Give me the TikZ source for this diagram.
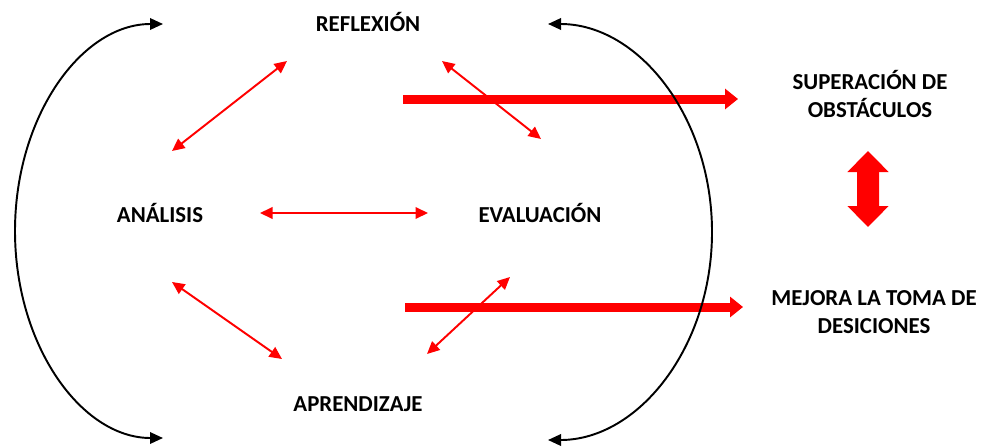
\documentclass[tikz,border=0pt]{standalone}
\usepackage{fontspec}
\setmainfont{Carlito}
\usetikzlibrary{arrows.meta}

\begin{document}
\begin{tikzpicture}[
    redarrow/.style={
      red, line width=1.1pt,
      {Triangle[length=2.5mm,width=2.3mm]}-{Triangle[length=2.5mm,width=2.3mm]}
    },
    bigarrow/.style={
      red, line width=1.8mm,
      -{Triangle[length=2.6mm,width=4mm]}
    },
    hugearrow/.style={
      red, line width=4.4mm,
      {Triangle[length=4.2mm,width=8mm]}-{Triangle[length=4.2mm,width=8mm]}
    },
    cyclearc/.style={
      black, line width=1.1pt,
      {Triangle[length=2.6mm,width=2.3mm]}-{Triangle[length=2.6mm,width=2.3mm]}
    },
    word/.style={font=\bfseries\fontsize{13}{15.5}\selectfont,inner sep=0pt,align=center}
  ]
    \useasboundingbox (0,0) rectangle (19.64,8.94);

    \node[word] (Reflexion) at (7.36,8.50) {REFLEXIÓN};
    \node[word] (Analisis) at (3.20,4.68) {ANÁLISIS};
    \node[word] (Evaluacion) at (10.80,4.68) {EVALUACIÓN};
    \node[word] (Aprendizaje) at (7.16,0.86) {APRENDIZAJE};
    \node[word] (Superacion) at (17.40,7.06) {SUPERACIÓN DE\\OBSTÁCULOS};
    \node[word] (Mejora) at (17.48,2.70) {MEJORA LA TOMA DE\\DESICIONES};

    \coordinate (UpperStart) at (8.06,6.96);
    \coordinate (LowerStart) at (8.10,2.80);
    \coordinate (LeftTop) at (3.26,8.46);
    \coordinate (RightTop) at (10.96,8.46);

    % thin links between the four stages
    \draw[redarrow] ([shift={(-1.62,-0.78)}]Reflexion.center) -- ([shift={(0.24,1.24)}]Analisis.center);
    \draw[redarrow] ([shift={(1.48,-0.78)}]Reflexion.center) -- ([shift={(0.02,1.48)}]Evaluacion.center);
    \draw[redarrow] ([shift={(2.0,0)}]Analisis.center) -- ([shift={(-2.24,0)}]Evaluacion.center);
    \draw[redarrow] ([shift={(0.24,-1.38)}]Analisis.center) -- ([shift={(-1.52,0.9)}]Aprendizaje.center);
    \draw[redarrow] ([shift={(-0.6,-1.28)}]Evaluacion.center) -- ([shift={(1.38,1.0)}]Aprendizaje.center);

    % results
    \draw[bigarrow,shorten >=2.64cm] (UpperStart) -- (UpperStart -| Superacion.center);
    \draw[bigarrow,shorten >=2.62cm] (LowerStart) -- (LowerStart -| Mejora.center);
    \draw[hugearrow] ([shift={(-0.04,-1.14)}]Superacion.center) -- ([shift={(-0.12,1.70)}]Mejora.center);

    % cycle
    \draw[cyclearc] (LeftTop) arc[start angle=90,end angle=270,x radius=2.96cm,y radius=4.14cm];
    \draw[cyclearc] (RightTop) arc[start angle=90,end angle=-90,x radius=3.28cm,y radius=4.16cm];
  \end{tikzpicture}
\end{document}
